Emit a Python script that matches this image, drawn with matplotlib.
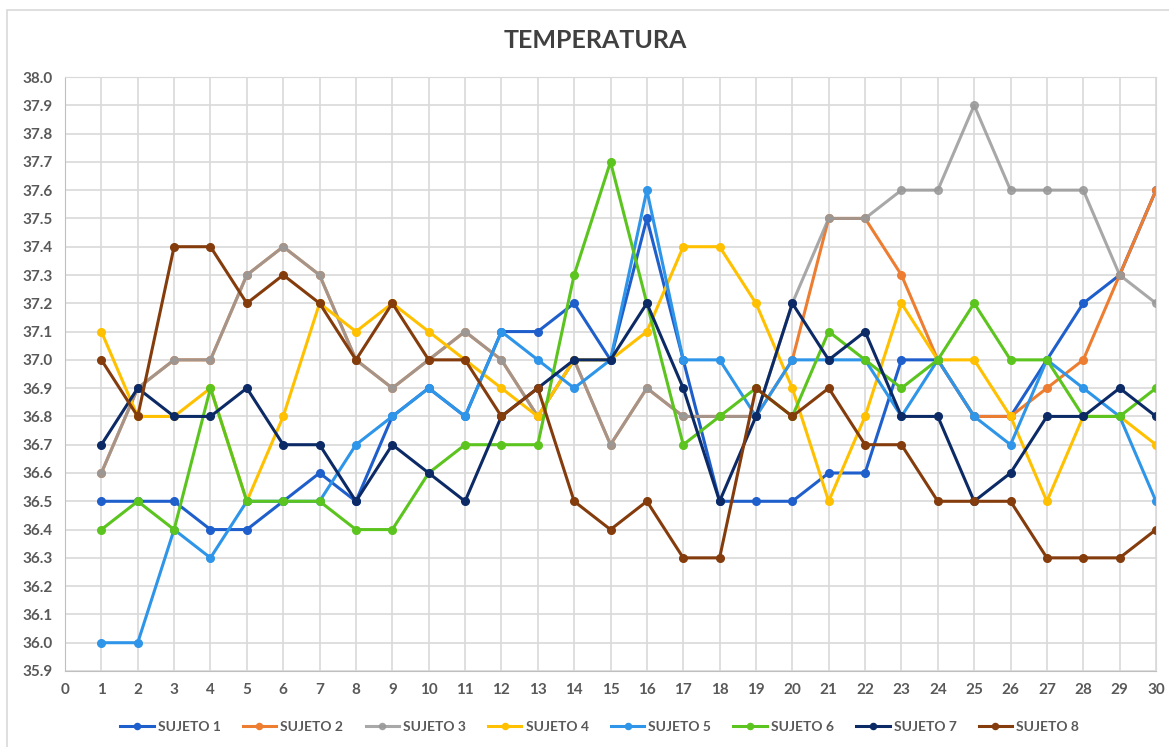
import matplotlib
matplotlib.use("Agg")
import matplotlib.pyplot as plt
from matplotlib.patches import Rectangle

dias = list(range(1, 31))

sujeto1 = [36.5, 36.5, 36.5, 36.4, 36.4, 36.5, 36.6, 36.5, 36.8, 36.9, 36.8, 37.1, 37.1, 37.2, 37.0,
           37.5, 37.0, 36.5, 36.5, 36.5, 36.6, 36.6, 37.0, 37.0, 36.8, 36.8, 37.0, 37.2, 37.3, 37.6]
sujeto2 = [36.6, 36.9, 37.0, 37.0, 37.3, 37.4, 37.3, 37.0, 36.9, 37.0, 37.1, 37.0, 36.8, 37.0, 36.7,
           36.9, 36.8, 36.8, 36.8, 37.0, 37.5, 37.5, 37.3, 37.0, 36.8, 36.8, 36.9, 37.0, 37.3, 37.6]
sujeto3 = [36.6, 36.9, 37.0, 37.0, 37.3, 37.4, 37.3, 37.0, 36.9, 37.0, 37.1, 37.0, 36.8, 37.0, 36.7,
           36.9, 36.8, 36.8, 36.8, 37.2, 37.5, 37.5, 37.6, 37.6, 37.9, 37.6, 37.6, 37.6, 37.3, 37.2]
sujeto4 = [37.1, 36.8, 36.8, 36.9, 36.5, 36.8, 37.2, 37.1, 37.2, 37.1, 37.0, 36.9, 36.8, 37.0, 37.0,
           37.1, 37.4, 37.4, 37.2, 36.9, 36.5, 36.8, 37.2, 37.0, 37.0, 36.8, 36.5, 36.8, 36.8, 36.7]
sujeto5 = [36.0, 36.0, 36.4, 36.3, 36.5, 36.5, 36.5, 36.7, 36.8, 36.9, 36.8, 37.1, 37.0, 36.9, 37.0,
           37.6, 37.0, 37.0, 36.8, 37.0, 37.0, 37.0, 36.8, 37.0, 36.8, 36.7, 37.0, 36.9, 36.8, 36.5]
sujeto6 = [36.4, 36.5, 36.4, 36.9, 36.5, 36.5, 36.5, 36.4, 36.4, 36.6, 36.7, 36.7, 36.7, 37.3, 37.7,
           37.2, 36.7, 36.8, 36.9, 36.8, 37.1, 37.0, 36.9, 37.0, 37.2, 37.0, 37.0, 36.8, 36.8, 36.9]
sujeto7 = [36.7, 36.9, 36.8, 36.8, 36.9, 36.7, 36.7, 36.5, 36.7, 36.6, 36.5, 36.8, 36.9, 37.0, 37.0,
           37.2, 36.9, 36.5, 36.8, 37.2, 37.0, 37.1, 36.8, 36.8, 36.5, 36.6, 36.8, 36.8, 36.9, 36.8]
sujeto8 = [37.0, 36.8, 37.4, 37.4, 37.2, 37.3, 37.2, 37.0, 37.2, 37.0, 37.0, 36.8, 36.9, 36.5, 36.4,
           36.5, 36.3, 36.3, 36.9, 36.8, 36.9, 36.7, 36.7, 36.5, 36.5, 36.5, 36.3, 36.3, 36.3, 36.4]

nombres = ['SUJETO 1', 'SUJETO 2', 'SUJETO 3', 'SUJETO 4',
           'SUJETO 5', 'SUJETO 6', 'SUJETO 7', 'SUJETO 8']
series = [sujeto1, sujeto2, sujeto3, sujeto4, sujeto5, sujeto6, sujeto7, sujeto8]
colores = ['#1f5fcc', '#ed7d31', '#999999', '#ffc000',
           '#2e95e8', '#5cc41e', '#0c2a66', '#843c0c']

plt.rcParams['font.family'] = ['Lato', 'DejaVu Sans']
txt = '#595959'

fig = plt.figure(figsize=(11.69, 7.47), dpi=100)
ax = fig.add_axes([65/1169, 1-671/747, (1156-65)/1169, (671-77)/747])

for nombre, ys, c in zip(nombres, series, colores):
    # sujeto 3 sits on top of sujeto 2 for the first days -> tan look
    a = 0.85 if nombre == 'SUJETO 3' else 1.0
    ax.plot(dias, ys, color=c, lw=2.2, marker='o', ms=5.5, label=nombre, alpha=a)

ax.set_xlim(0, 30)
ax.set_ylim(35.9, 38.0)
ax.set_xticks(range(0, 31))
yt = [round(35.9 + 0.1*i, 1) for i in range(22)]
ax.set_yticks(yt)
ax.set_yticklabels([f'{v:.1f}' for v in yt])
ax.grid(True, color='#d9d9d9', lw=1.2)
ax.set_axisbelow(True)
for s in ['top', 'right']:
    ax.spines[s].set_color('#d9d9d9')
for s in ['left', 'bottom']:
    ax.spines[s].set_color('#bfbfbf')
ax.tick_params(length=0, labelsize=11, labelcolor=txt, pad=9)
for lab in ax.get_xticklabels() + ax.get_yticklabels():
    lab.set_fontweight('bold')

fig.text(595/1169, 1-40/747, 'TEMPERATURA', ha='center', va='center',
         fontsize=18, fontweight='bold', color='#404040')

leg = fig.legend(loc='center', bbox_to_anchor=(0.513, 1-727/747), ncol=8, frameon=False,
                 prop={'weight': 'bold', 'size': 10}, handlelength=2.4, columnspacing=1.6,
                 handletextpad=0.3, markerscale=0.8)
for t in leg.get_texts():
    t.set_color(txt)

fig.patches.append(Rectangle((7/1169, -0.01), 1.0, 1-10/747+0.01, transform=fig.transFigure,
                             fill=False, edgecolor='#d9d9d9', lw=1.2))

fig.savefig('out.png', dpi=100)
